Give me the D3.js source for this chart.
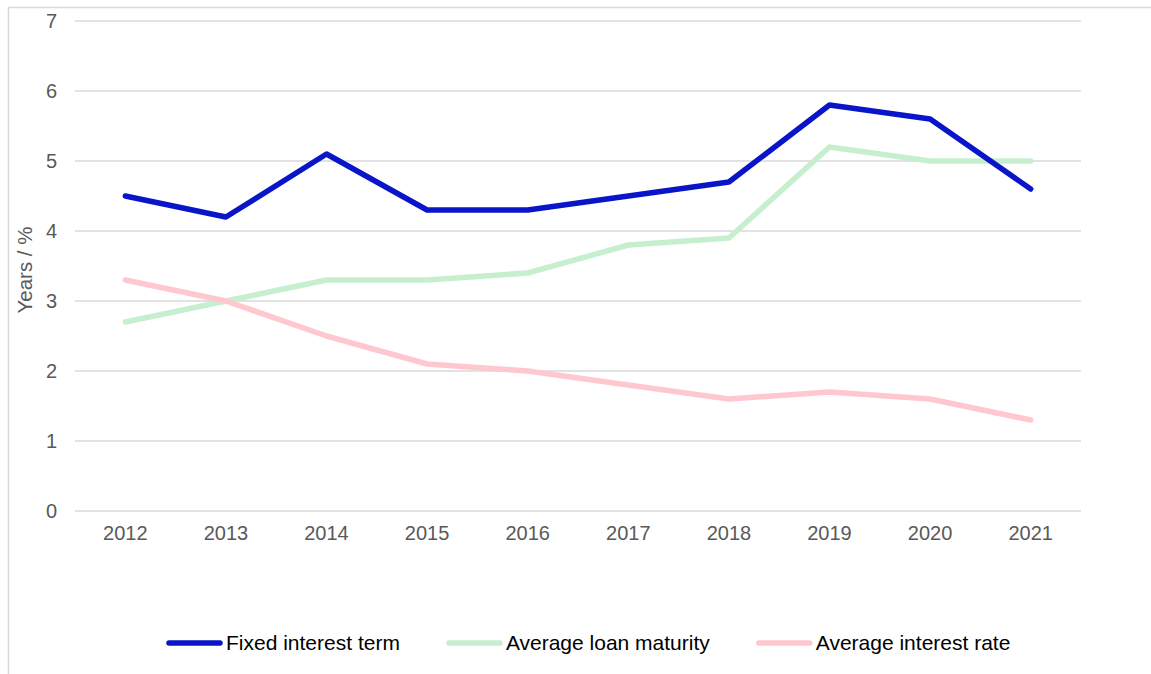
<!DOCTYPE html>
<html>
<head>
<meta charset="utf-8">
<script src="https://cdn.jsdelivr.net/npm/d3@7"></script>
<style>
  html, body { margin: 0; padding: 0; background: #fff; }
  svg { display: block; font-family: "Liberation Sans", Arial, sans-serif; }
</style>
</head>
<body>
<svg id="chart" width="1151" height="674"></svg>
<script>
// Loan statistics by year
const years = ["2012", "2013", "2014", "2015", "2016", "2017", "2018", "2019", "2020", "2021"];
const fixedInterestTerm = [4.5, 4.2, 5.1, 4.3, 4.3, 4.5, 4.7, 5.8, 5.6, 4.6];
const averageLoanMaturity = [2.7, 3.0, 3.3, 3.3, 3.4, 3.8, 3.9, 5.2, 5.0, 5.0];
const averageInterestRate = [3.3, 3.0, 2.5, 2.1, 2.0, 1.8, 1.6, 1.7, 1.6, 1.3];
const yTicks = [0, 1, 2, 3, 4, 5, 6, 7];
const seriesNames = ["Fixed interest term", "Average loan maturity", "Average interest rate"];

const series = [
  { name: seriesNames[0], values: fixedInterestTerm, color: "#0A14C8" },
  { name: seriesNames[1], values: averageLoanMaturity, color: "#C6EFCE" },
  { name: seriesNames[2], values: averageInterestRate, color: "#FFC7CE" }
];

const svg = d3.select("#chart");
const W = 1151, H = 674;
const plot = { left: 75, right: 1081, top: 21, bottom: 511 };

// outer frame
svg.append("rect")
  .attr("x", 8.5).attr("y", 7.5)
  .attr("width", W + 10).attr("height", H + 10)
  .attr("fill", "none").attr("stroke", "#D9D9D9").attr("stroke-width", 1.5);

const x = d3.scaleBand().domain(years).range([plot.left, plot.right]);
const y = d3.scaleLinear().domain([0, 7]).range([plot.bottom, plot.top]);

// horizontal gridlines
svg.append("g").selectAll("line").data(yTicks).join("line")
  .attr("x1", plot.left).attr("x2", plot.right)
  .attr("y1", d => y(d)).attr("y2", d => y(d))
  .attr("stroke", "#D9D9D9").attr("stroke-width", 1.5);

// y axis labels
const yAxis = svg.append("g")
  .attr("transform", `translate(${plot.left},0)`)
  .call(d3.axisLeft(y).tickValues(yTicks).tickSize(0).tickPadding(18).tickFormat(d3.format("d")));
yAxis.select(".domain").remove();
yAxis.selectAll("text").attr("fill", "#595959").style("font-size", "20px")
  .style("font-family", "'Liberation Sans', Arial, sans-serif");

// x axis labels
const xAxis = svg.append("g")
  .attr("transform", `translate(0,${plot.bottom})`)
  .call(d3.axisBottom(x).tickSize(0).tickPadding(15));
xAxis.select(".domain").remove();
xAxis.selectAll("text").attr("fill", "#595959").style("font-size", "20px")
  .style("font-family", "'Liberation Sans', Arial, sans-serif");

// y axis title
svg.append("text")
  .attr("transform", `translate(32,270) rotate(-90)`)
  .attr("text-anchor", "middle")
  .attr("fill", "#595959")
  .style("font-size", "20.5px")
  .text("Years / %");

// lines
const line = d3.line()
  .x((d, i) => x(years[i]) + x.bandwidth() / 2)
  .y(d => y(d));

const drawOrder = [series[1], series[2], series[0]];
svg.append("g").selectAll("path").data(drawOrder).join("path")
  .attr("d", d => line(d.values))
  .attr("fill", "none")
  .attr("stroke", d => d.color)
  .attr("stroke-width", 5.5)
  .attr("stroke-linecap", "round")
  .attr("stroke-linejoin", "round");

// legend
const legend = svg.append("g").attr("transform", "translate(0,643)");
let cx = 167;
series.forEach(s => {
  legend.append("line")
    .attr("x1", cx + 2).attr("x2", cx + 53)
    .attr("y1", 0).attr("y2", 0)
    .attr("stroke", s.color).attr("stroke-width", 5.5)
    .attr("stroke-linecap", "round");
  const t = legend.append("text")
    .attr("x", cx + 59).attr("y", 0)
    .attr("dy", "0.35em")
    .attr("fill", "#000")
    .style("font-size", "21px")
    .text(s.name);
  cx = cx + 59 + t.node().getComputedTextLength() + 47;
});
</script>
</body>
</html>
